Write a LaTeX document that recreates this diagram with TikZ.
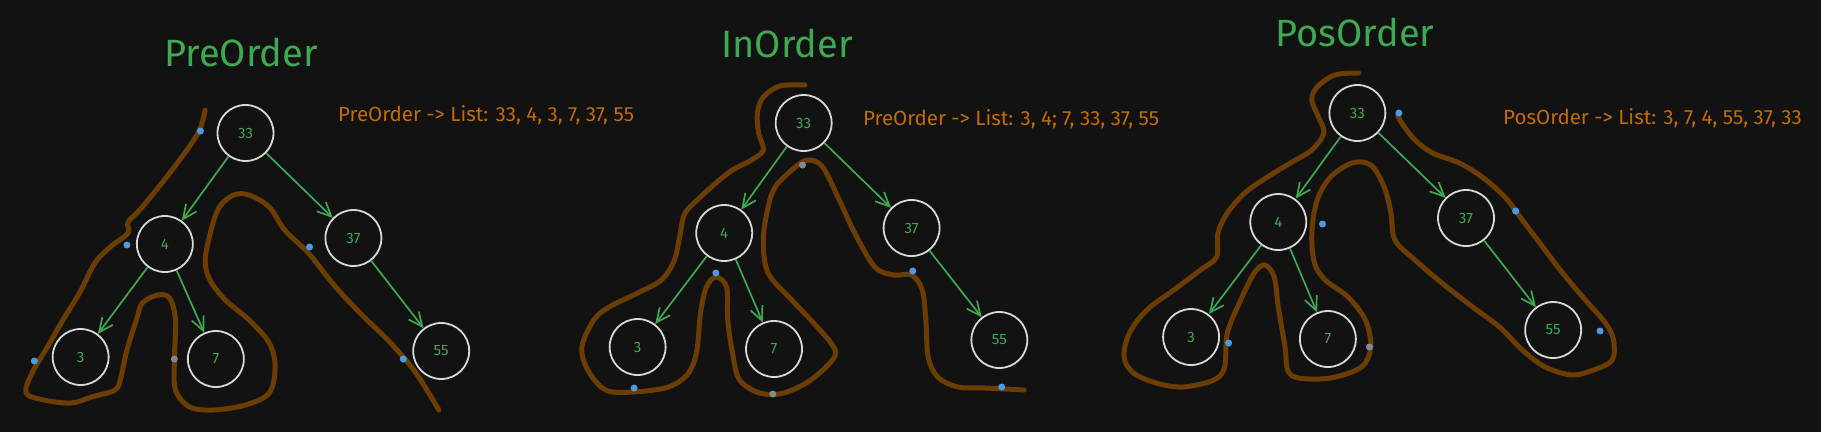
\documentclass[tikz,border=0pt]{standalone}
\usepackage{fontspec}
\setmainfont{Fira Sans}
\usetikzlibrary{arrows.meta,shapes.geometric}
\definecolor{bg}{HTML}{121212}
\definecolor{brn}{HTML}{6B3D05}
\definecolor{grn}{HTML}{3FA852}
\definecolor{org}{HTML}{C46A08}
\definecolor{blu}{HTML}{4A9AE8}
\definecolor{gry}{HTML}{7E8A96}
\definecolor{wht}{HTML}{D8D8D8}
\begin{document}
\begin{tikzpicture}[x=1pt,y=-1pt,
 tnode/.style={draw=wht, line width=1.8pt, circle, minimum size=56pt, inner sep=0pt, text=grn, font=\fontsize{15}{15}\selectfont},
 edge/.style={draw=grn, line width=1.7pt, -{Straight Barb[length=14pt,width=13pt]}},
 trail/.style={draw=brn, line width=5pt, line cap=round, line join=round},
 ttl/.style={text=grn, font=\fontsize{38}{38}\selectfont},
 lst/.style={text=org, font=\fontsize{20.5}{20.5}\selectfont, anchor=west, inner sep=0pt},
 bdot/.style={circle, fill=blu, inner sep=0pt, minimum size=7pt},
 gdot/.style={circle, fill=gry, inner sep=0pt, minimum size=7pt}]
\fill[bg] (0,0) rectangle (1821,432);
\useasboundingbox (0,0) rectangle (1821,432);

\node[ttl] (t1) at (241,52) {PreOrder};
\node[lst] (l1) at (338,115) {PreOrder -> List: 33, 4, 3, 7, 37, 55};
\node[ttl] (t2) at (787,43) {InOrder};
\node[lst] (l2) at (863,119) {PreOrder -> List: 3, 4; 7, 33, 37, 55};
\node[ttl] (t3) at (1355,32) {PosOrder};
\node[lst] (l3) at (1503,118) {PosOrder -> List: 3, 7, 4, 55, 37, 33};

% ---------------- PreOrder ----------------
\begin{scope}[xscale=1.186]
\draw[trail] plot[smooth, tension=0.55] coordinates {
 (173,110) (167,133) (147,167) (120,207) (108,222) (108,233) (93,247) (80,263) (67,293) (53,320) (40,347) (27,373) (22,393) (37,400) (60,403) (77,397) (97,390) (102,377) (107,350) (115,320) (120,303) (133,295) (143,298) (148,320) (147,360) (148,390) (160,407) (180,410) (207,405) (227,393) (232,367) (227,343) (210,320) (190,300) (177,280) (173,260) (178,230) (185,207) (197,195) (210,195) (227,207) (240,230) (260,253) (283,287) (307,317) (327,340) (347,367) (360,390) (370,410)};
\node[tnode] (p33) at (207,133) {33};
\node[tnode] (p4) at (139,244) {4};
\node[tnode] (p37) at (298,238) {37};
\node[tnode] (p3) at (68,357) {3};
\node[tnode] (p7) at (182,359) {7};
\node[tnode] (p55) at (372,351) {55};
\draw[edge] (p33) -- (p4);
\draw[edge] (p33) -- (p37);
\draw[edge] (p4) -- (p3);
\draw[edge] (p4) -- (p7);
\draw[edge] (p37) -- (p55);
\node[bdot] (pd1) at (169,131) {};
\node[bdot] (pd2) at (107,245) {};
\node[bdot] (pd3) at (29,361) {};
\node[gdot] (pd4) at (147,359) {};
\node[bdot] (pd5) at (261,247) {};
\node[bdot] (pd6) at (340,359) {};
\end{scope}

% ---------------- InOrder ----------------
\begin{scope}[xshift=-106.0pt, xscale=1.186]
\draw[trail] plot[smooth, tension=0.55] coordinates {
 (768,85) (747,86) (733,97) (728,113) (729,133) (733,150) (723,160) (707,170) (693,183) (680,197) (667,213) (663,233) (658,260) (647,280) (627,293) (603,307) (590,320) (580,347) (585,370) (600,390) (623,392) (653,387) (670,373) (677,350) (680,313) (685,287) (693,277) (702,287) (703,320) (707,353) (713,380) (730,393) (750,393) (773,380) (793,357) (790,343) (773,320) (757,300) (737,273) (733,240) (737,207) (743,187) (757,170) (770,160) (783,167) (797,200) (810,233) (827,267) (843,275) (858,275) (867,290) (870,320) (872,357) (880,377) (897,387) (920,388) (953,390)};
\node[tnode] (i33) at (767,123) {33};
\node[tnode] (i4) at (700,233) {4};
\node[tnode] (i37) at (858,228) {37};
\node[tnode] (i3) at (627,347) {3};
\node[tnode] (i7) at (742,349) {7};
\node[tnode] (i55) at (932,340) {55};
\draw[edge] (i33) -- (i4);
\draw[edge] (i33) -- (i37);
\draw[edge] (i4) -- (i3);
\draw[edge] (i4) -- (i7);
\draw[edge] (i37) -- (i55);
\node[gdot] (id1) at (766,165) {};
\node[bdot] (id2) at (693,273) {};
\node[bdot] (id3) at (624,388) {};
\node[gdot] (id4) at (741,394) {};
\node[bdot] (id5) at (859,271) {};
\node[bdot] (id6) at (934,387) {};
\end{scope}

% ---------------- PosOrder ----------------
\begin{scope}[xshift=-381.9pt, xscale=1.341]
\draw[trail] plot[smooth, tension=0.55] coordinates {
 (1298,73) (1280,75) (1267,87) (1263,100) (1268,117) (1272,133) (1263,150) (1247,163) (1230,177) (1213,193) (1200,213) (1193,233) (1192,257) (1180,270) (1160,290) (1140,310) (1127,333) (1123,357) (1130,373) (1147,383) (1167,387) (1190,380) (1198,367) (1200,333) (1210,300) (1220,273) (1228,265) (1235,277) (1238,307) (1243,347) (1245,370) (1253,378) (1277,378) (1300,367) (1307,347) (1303,320) (1290,297) (1273,280) (1265,263) (1263,233) (1267,200) (1277,177) (1293,163) (1307,165) (1317,187) (1322,213) (1325,240) (1340,260) (1360,283) (1383,307) (1403,327) (1420,350) (1437,367) (1457,375) (1473,370) (1487,360) (1488,340) (1482,323) (1467,300) (1450,273) (1433,243) (1420,220) (1407,197) (1390,177) (1373,163) (1353,153) (1340,140) (1330,123) (1327,115)};
\node[tnode] (o33) at (1297,113) {33};
\node[tnode] (o4) at (1238,222) {4};
\node[tnode] (o37) at (1378,218) {37};
\node[tnode] (o3) at (1173,337) {3};
\node[tnode] (o7) at (1275,339) {7};
\node[tnode] (o55) at (1443,330) {55};
\draw[edge] (o33) -- (o4);
\draw[edge] (o33) -- (o37);
\draw[edge] (o4) -- (o3);
\draw[edge] (o4) -- (o7);
\draw[edge] (o37) -- (o55);
\node[bdot] (od1) at (1328,113) {};
\node[bdot] (od2) at (1271,224) {};
\node[bdot] (od3) at (1201,343) {};
\node[gdot] (od4) at (1306,347) {};
\node[bdot] (od5) at (1415,211) {};
\node[bdot] (od6) at (1478,331) {};
\end{scope}
\end{tikzpicture}
\end{document}
